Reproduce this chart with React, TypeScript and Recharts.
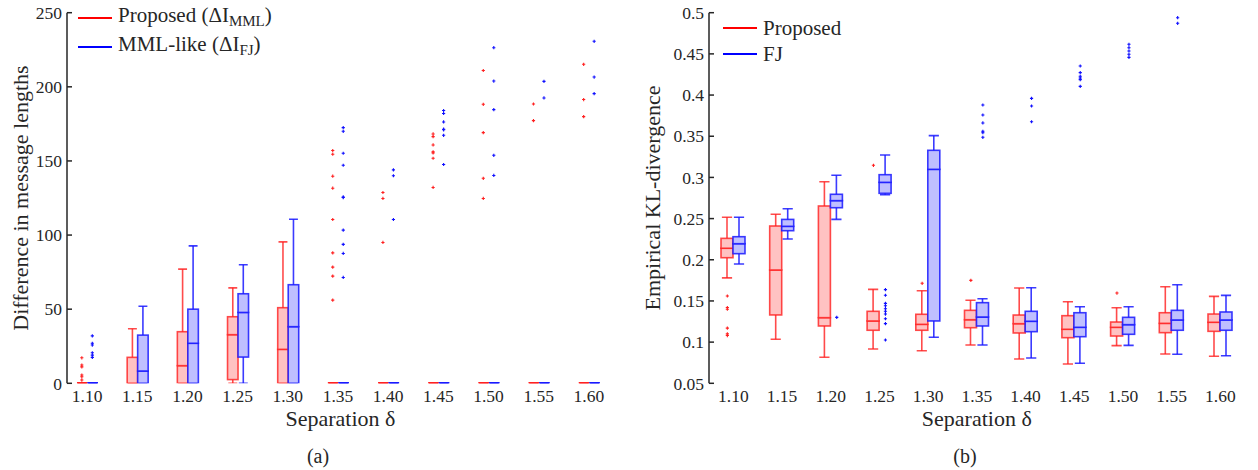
import React from "react";
import { Bar, ComposedChart, Scatter, XAxis, YAxis } from "recharts";

const separations = ["1.10", "1.15", "1.20", "1.25", "1.30", "1.35", "1.40", "1.45", "1.50", "1.55", "1.60"];

// (a) difference in message lengths
const propMin = [0, 0, 0, 0, 0, 0, 0, 0, 0, 0, 0];
const propQ1 = [0, 0, 0, 2.5, 0, 0, 0, 0, 0, 0, 0];
const propMed = [0, 0, 11.9, 32.8, 22.9, 0, 0, 0, 0, 0, 0];
const propQ3 = [0, 17.5, 34.8, 44.9, 51, 0, 0, 0, 0, 0, 0];
const propMax = [0, 36.8, 77, 64.4, 95.4, 0, 0, 0, 0, 0, 0];
const propOut = [
  [17.2, 12.3, 11.1, 5.6, 4.4, 2.2], [], [], [], [],
  [157, 154.5, 139.7, 131.6, 110.5, 88, 78.4, 72.3, 56.1],
  [128.7, 124.7, 95],
  [168.2, 166.4, 160.8, 156.1, 155.4, 151.8, 132.1],
  [211, 188.2, 169.1, 138.3, 124.7],
  [188.4, 177.2],
  [215.2, 191.4, 179.9],
];

const mmlMin = [0, 0, 0, 0, 0, 0, 0, 0, 0, 0, 0];
const mmlQ1 = [0, 0, 0, 17.7, 0, 0, 0, 0, 0, 0, 0];
const mmlMed = [0, 8.3, 27, 47.8, 38.2, 0, 0, 0, 0, 0, 0];
const mmlQ3 = [0, 32.5, 50, 60.4, 66.5, 0, 0, 0, 0, 0, 0];
const mmlMax = [0, 52, 92.7, 80, 110.7, 0, 0, 0, 0, 0, 0];
const mmlOut = [
  [32, 27, 25.8, 20.6, 19, 17.5], [], [], [], [],
  [172.5, 170, 155.2, 147.1, 125.7, 125.3, 103.3, 93.7, 87.6, 71.4],
  [144, 140, 110.5],
  [184, 182, 176.3, 171.4, 171, 167.3, 147.6],
  [226.4, 203.9, 184.6, 153.8, 140.2],
  [203.7, 192.5],
  [230.7, 206.6, 195.4],
];

// (b) empirical KL-divergence
const klPropMin = [0.178, 0.1035, 0.0816, 0.0917, 0.0896, 0.0965, 0.0795, 0.0734, 0.0957, 0.0856, 0.0828];
const klPropQ1 = [0.2025, 0.133, 0.1196, 0.1144, 0.1144, 0.1175, 0.1111, 0.1054, 0.1074, 0.1115, 0.1131];
const klPropMed = [0.214, 0.1876, 0.1297, 0.1257, 0.1216, 0.1272, 0.1224, 0.1156, 0.118, 0.1228, 0.1241];
const klPropQ3 = [0.226, 0.241, 0.2653, 0.1374, 0.1338, 0.1386, 0.1329, 0.1321, 0.1244, 0.1357, 0.1341];
const klPropMax = [0.2516, 0.2552, 0.2948, 0.1641, 0.1624, 0.1508, 0.1657, 0.1491, 0.1418, 0.1673, 0.1556];
const klPropOut = [[0.156, 0.142, 0.14, 0.117, 0.11, 0.108], [], [], [0.3147], [0.1714], [0.175], [], [], [0.1596], [], []];

const klFjMin = [0.1949, 0.2252, 0.2491, 0.279, 0.1059, 0.0965, 0.0807, 0.0743, 0.0961, 0.0852, 0.0835];
const klFjQ1 = [0.2074, 0.2353, 0.2632, 0.2807, 0.1257, 0.1196, 0.1127, 0.1066, 0.1095, 0.1144, 0.1144];
const klFjMed = [0.2195, 0.2406, 0.2718, 0.294, 0.3098, 0.1305, 0.1253, 0.118, 0.1212, 0.1269, 0.1269];
const klFjQ3 = [0.228, 0.249, 0.2795, 0.3033, 0.3329, 0.1479, 0.1374, 0.1357, 0.1301, 0.1386, 0.1366];
const klFjMax = [0.2516, 0.262, 0.3026, 0.3272, 0.3507, 0.1527, 0.1661, 0.143, 0.143, 0.1697, 0.1568];
const klFjOut = [
  [], [], [0.13],
  [0.1637, 0.1569, 0.1471, 0.1442, 0.1406, 0.1374, 0.1341, 0.1284, 0.1224, 0.1026],
  [],
  [0.3879, 0.3758, 0.3661, 0.356, 0.3543, 0.3487],
  [0.396, 0.3867, 0.3676],
  [0.4353, 0.4272, 0.4228, 0.4207, 0.4187, 0.4106],
  [0.4616, 0.4575, 0.4535, 0.4495, 0.4458],
  [0.4939, 0.4871],
  [],
];

const leftTicks = [0, 50, 100, 150, 200, 250];
const rightTicks = [0.05, 0.1, 0.15, 0.2, 0.25, 0.3, 0.35, 0.4, 0.45, 0.5];
const positions = separations.map((_, i) => i + 1);

const FONT = "'Liberation Serif', 'Times New Roman', serif";
const TEXT = "#262626";
const RED = { line: "rgba(255,30,30,0.8)", fill: "#ffc2c2", mark: "#ff2020" };
const BLUE = { line: "rgba(25,25,255,0.85)", fill: "#bfbfff", mark: "#1010ff" };

type Stats = { min: number[]; q1: number[]; med: number[]; q3: number[]; max: number[]; out: number[][] };

const buildRows = (a: Stats, b: Stats) =>
  positions.map((pos, i) => ({
    pos,
    aBase: a.min[i],
    aLw: a.q1[i] - a.min[i],
    aLb: a.med[i] - a.q1[i],
    aHb: a.q3[i] - a.med[i],
    aHw: a.max[i] - a.q3[i],
    bBase: b.min[i],
    bLw: b.q1[i] - b.min[i],
    bLb: b.med[i] - b.q1[i],
    bHb: b.q3[i] - b.med[i],
    bHw: b.max[i] - b.q3[i],
  }));

const buildOutliers = (s: Stats) =>
  s.out.flatMap((vals, i) => vals.map((v) => ({ pos: positions[i], v })));

const boxShape = (part: string, c: { line: string; fill: string }) => (p: any) => {
  const { x, y, width, height } = p;
  if (x == null || y == null) return <g />;
  const cx = x + width / 2;
  const cap = width * 0.85;
  const sw = 1.6;
  if (part === "base") return <g />;
  if (part === "lw")
    return (
      <g stroke={c.line} strokeWidth={sw}>
        <line x1={cx} x2={cx} y1={y} y2={y + height} />
        <line x1={cx - cap / 2} x2={cx + cap / 2} y1={y + height} y2={y + height} />
      </g>
    );
  if (part === "hw")
    return (
      <g stroke={c.line} strokeWidth={sw}>
        <line x1={cx} x2={cx} y1={y} y2={y + height} />
        <line x1={cx - cap / 2} x2={cx + cap / 2} y1={y} y2={y} />
      </g>
    );
  // collapsed box: quartiles and median on top of each other
  if (height < 0.5)
    return <line x1={x} x2={x + width} y1={y} y2={y} stroke={c.line} strokeWidth={2.4} />;
  return <rect x={x} y={y} width={width} height={height} fill={c.fill} stroke={c.line} strokeWidth={sw} />;
};

const plusShape = (dx: number, color: string) => (p: any) => {
  const { cx, cy } = p;
  if (cx == null || cy == null) return <g />;
  const x = cx + dx;
  return (
    <g stroke={color} strokeWidth={1.1}>
      <line x1={x - 1.6} x2={x + 1.6} y1={cy} y2={cy} />
      <line x1={x} x2={x} y1={cy - 1.6} y2={cy + 1.6} />
    </g>
  );
};

interface PanelProps {
  a: Stats;
  b: Stats;
  width: number;
  margin: { top: number; right: number; bottom: number; left: number };
  yWidth: number;
  xDomain: [number, number];
  yDomain: [number, number];
  yTicks: number[];
  yLabel: string;
  boxWidth: number;
}

const BoxPanel: React.FC<PanelProps> = ({ a, b, width, margin, yWidth, xDomain, yDomain, yTicks, yLabel, boxWidth }) => {
  const rows = buildRows(a, b);
  const tickStyle = { fontFamily: FONT, fontSize: 17.5, fill: TEXT };
  const parts = ["base", "lw", "lb", "hb", "hw"];
  const keys = ["Base", "Lw", "Lb", "Hb", "Hw"];
  return (
    <ComposedChart width={width} height={470} data={rows} margin={margin} barGap={0} barSize={boxWidth}>
      <XAxis
        type="number"
        dataKey="pos"
        domain={xDomain}
        ticks={positions}
        interval={0}
        allowDataOverflow
        axisLine={false}
        tickLine={false}
        tickSize={0}
        tickMargin={6}
        height={22}
        tick={tickStyle}
        tickFormatter={(v) => separations[v - 1]}
        label={{ value: "Separation δ", position: "bottom", offset: 5, style: { fontFamily: FONT, fontSize: 22, fill: TEXT } }}
      />
      <YAxis
        type="number"
        domain={yDomain}
        ticks={yTicks}
        allowDataOverflow
        width={yWidth}
        axisLine={{ stroke: TEXT, strokeWidth: 1.5 }}
        tickLine={{ stroke: TEXT, strokeWidth: 1.5 }}
        tickSize={-5}
        tickMargin={10}
        tick={tickStyle}
        label={{
          value: yLabel,
          angle: -90,
          position: "insideLeft",
          offset: 13,
          style: { textAnchor: "middle", fontFamily: FONT, fontSize: 22, fill: TEXT },
        }}
      />
      {keys.map((k, i) => (
        <Bar key={"a" + k} dataKey={"a" + k} stackId="a" isAnimationActive={false} shape={boxShape(parts[i], RED)} />
      ))}
      {keys.map((k, i) => (
        <Bar key={"b" + k} dataKey={"b" + k} stackId="b" isAnimationActive={false} shape={boxShape(parts[i], BLUE)} />
      ))}
      <Scatter data={buildOutliers(a)} dataKey="v" isAnimationActive={false} shape={plusShape(-boxWidth / 2, RED.mark)} />
      <Scatter data={buildOutliers(b)} dataKey="v" isAnimationActive={false} shape={plusShape(boxWidth / 2, BLUE.mark)} />
    </ComposedChart>
  );
};

const LegendRow: React.FC<{ color: string; children: React.ReactNode }> = ({ color, children }) => (
  <div style={{ display: "flex", alignItems: "center", height: 26 }}>
    <div style={{ width: 34, height: 0, borderTop: `2px solid ${color}`, marginRight: 6 }} />
    <span>{children}</span>
  </div>
);

export default function App() {
  const prop = { min: propMin, q1: propQ1, med: propMed, q3: propQ3, max: propMax, out: propOut };
  const mml = { min: mmlMin, q1: mmlQ1, med: mmlMed, q3: mmlQ3, max: mmlMax, out: mmlOut };
  const klProp = { min: klPropMin, q1: klPropQ1, med: klPropMed, q3: klPropQ3, max: klPropMax, out: klPropOut };
  const klFj = { min: klFjMin, q1: klFjQ1, med: klFjMed, q3: klFjQ3, max: klFjMax, out: klFjOut };
  const sub = { fontSize: 15, verticalAlign: "-4px" } as React.CSSProperties;
  return (
    <div style={{ position: "relative", width: 1258, height: 470, background: "#fff", fontFamily: FONT, color: TEXT }}>
      <style>{"body{margin:0} .recharts-text{font-family:'Liberation Serif','Times New Roman',serif}"}</style>
      <div style={{ position: "absolute", left: 0, top: 0 }}>
        <BoxPanel
          a={prop}
          b={mml}
          width={630}
          margin={{ top: 12.7, right: 16, bottom: 64.7, left: 7 }}
          yWidth={60}
          xDomain={[0.6, 11.5]}
          yDomain={[0, 250]}
          yTicks={leftTicks}
          yLabel="Difference in message lengths"
          boxWidth={10.5}
        />
      </div>
      <div style={{ position: "absolute", left: 630, top: 0 }}>
        <BoxPanel
          a={klProp}
          b={klFj}
          width={628}
          margin={{ top: 12.7, right: 13.3, bottom: 64.7, left: 9 }}
          yWidth={70}
          xDomain={[0.5, 11.5]}
          yDomain={[0.05, 0.5]}
          yTicks={rightTicks}
          yLabel="Empirical KL-divergence"
          boxWidth={12}
        />
      </div>
      <div style={{ position: "absolute", left: 78, top: 5, fontSize: 21, lineHeight: "26px" }}>
        <LegendRow color="#ff0000">
          Proposed (ΔI<span style={sub}>MML</span>)
        </LegendRow>
        <div style={{ height: 3 }} />
        <LegendRow color="#0000ff">
          MML-like (ΔI<span style={sub}>FJ</span>)
        </LegendRow>
      </div>
      <div style={{ position: "absolute", left: 723, top: 15, fontSize: 21, lineHeight: "25px" }}>
        <LegendRow color="#ff0000">Proposed</LegendRow>
        <LegendRow color="#0000ff">FJ</LegendRow>
      </div>
      <div style={{ position: "absolute", left: 300, top: 445, width: 36, textAlign: "center", fontSize: 20 }}>(a)</div>
      <div style={{ position: "absolute", left: 947, top: 445, width: 36, textAlign: "center", fontSize: 20 }}>(b)</div>
    </div>
  );
}
